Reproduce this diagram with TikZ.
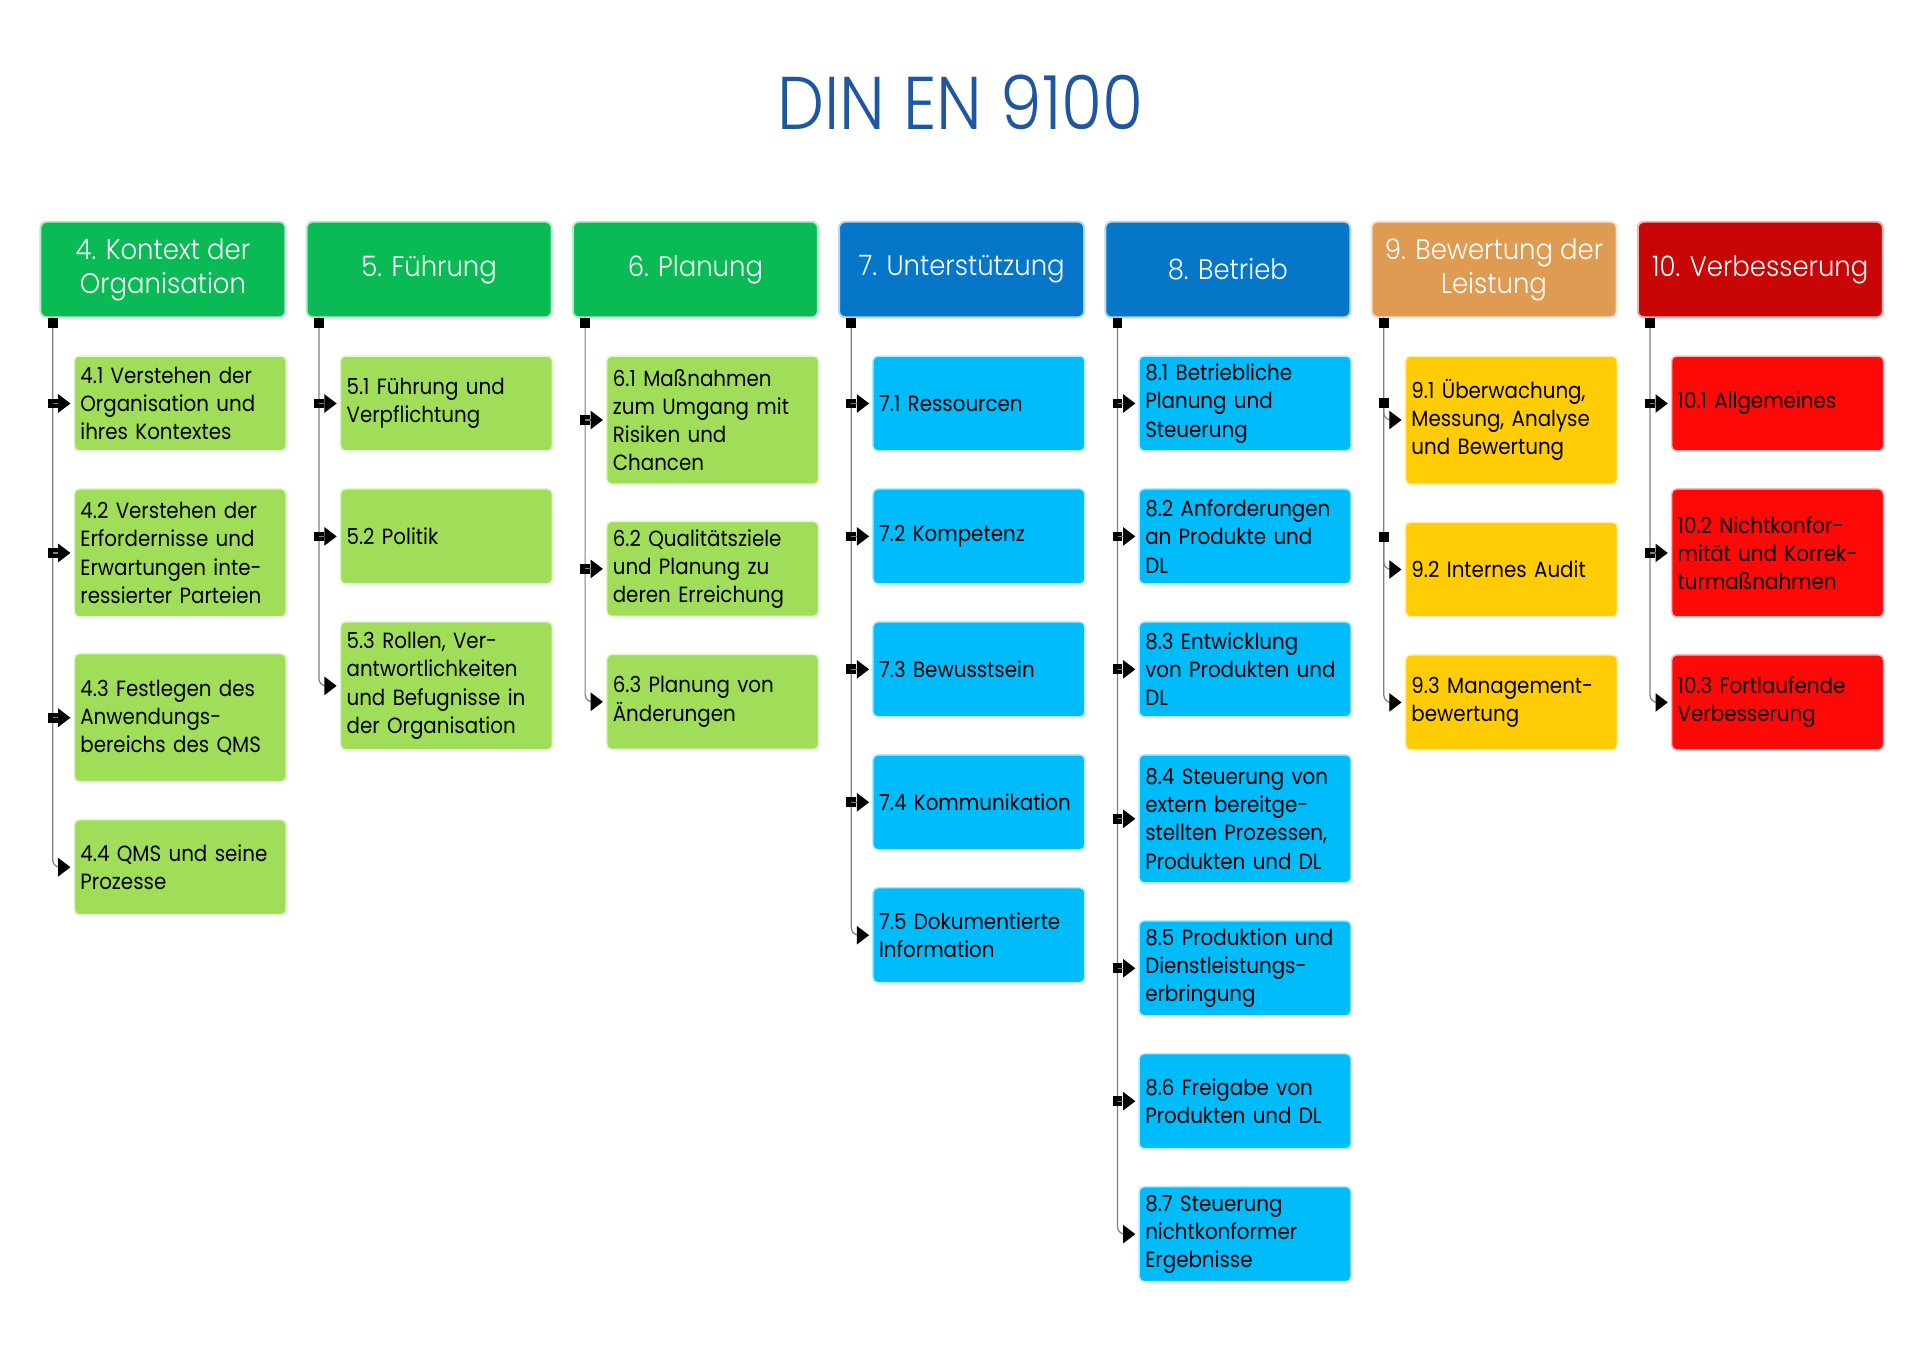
\documentclass[tikz,border=0pt]{standalone}
\usepackage{fontspec}
\setmainfont[FakeStretch=0.9]{Poppins}
\newfontfamily\titlefont[FakeStretch=0.89]{Poppins Light}
\newfontfamily\hdrfont[FakeStretch=0.92]{Poppins Light}
\usetikzlibrary{arrows.meta,calc}
\definecolor{hgreen}{RGB}{10,186,85}
\definecolor{hblue}{RGB}{5,118,200}
\definecolor{horange}{RGB}{224,155,82}
\definecolor{hred}{RGB}{200,6,6}
\definecolor{sgreen}{RGB}{160,222,90}
\definecolor{sblue}{RGB}{0,188,250}
\definecolor{syellow}{RGB}{255,204,5}
\definecolor{sred}{RGB}{255,8,8}
\definecolor{tblue}{RGB}{31,86,160}
\definecolor{linegray}{RGB}{128,128,128}
\newcommand\hbx[5]{\node[hdrbox,fill=#4,draw=#4!30] (#1) at (#2,#3) {#5};}
\newcommand\sbx[6]{\node[subbox,fill=#5,draw=#5!30,minimum height=#4*0.5pt] (#1) at (#2,#3) {#6};}
\newcommand\midarr[2]{\node[sq] at (#1 |- #2.west) {};\draw[conn,arr] (#1 |- #2.west) -- (#2.west);}
\newcommand\lastarr[2]{\draw[conn,arr,rounded corners=3pt] (#1) |- (#2.west);\node[sq,anchor=north] at (#1) {};}
\begin{document}
\begin{tikzpicture}[x=0.5pt,y=-0.5pt,
 hdrbox/.style={rounded corners=2.5pt,minimum width=100pt,minimum height=39pt,inner sep=0pt,align=center,text=white,line width=0.8pt,font=\hdrfont\fontsize{11.5}{14}\selectfont},
 subbox/.style={rounded corners=2pt,minimum width=86.5pt,inner xsep=2.5pt,inner ysep=0pt,text width=81.5pt,align=left,anchor=north west,line width=0.6pt,font=\fontsize{9}{11.5}\selectfont},
 conn/.style={draw=linegray,line width=0.5pt},
 arr/.style={-{Triangle[length=5pt,width=7.5pt,color=black]},shorten >=1.25pt},
 sq/.style={fill=black,minimum size=4pt,inner sep=0pt}]
\fill[white] (0,0) rectangle (1568,1106);
\useasboundingbox (0,0) rectangle (1568,1106);

\node[anchor=base,text=tblue,font=\titlefont\fontsize{30.5}{36}\selectfont] (title) at (784,106) {DIN EN 9100};

% headers
\hbx{h4}{133}{220}{hgreen}{4. Kontext der\\Organisation}
\hbx{h5}{350.3}{220}{hgreen}{5. Führung}
\hbx{h6}{567.6}{220}{hgreen}{6. Planung}
\hbx{h7}{784.9}{220}{hblue}{7. Unterstützung}
\hbx{h8}{1002.2}{220}{hblue}{8. Betrieb}
\hbx{h9}{1219.5}{220}{horange}{9. Bewertung der\\Leistung}
\hbx{h10}{1436.8}{220}{hred}{10. Verbesserung}

% line origins
\coordinate (l4) at (43,259);
\coordinate (l5) at (260.3,259);
\coordinate (l6) at (477.6,259);
\coordinate (l7) at (694.9,259);
\coordinate (l8) at (912.2,259);
\coordinate (l9) at (1129.5,259);
\coordinate (l10) at (1346.8,259);

% column 4
\sbx{b41}{60}{290}{77.5}{sgreen}{4.1 Verstehen der\\Organisation und\\ihres Kontextes}
\sbx{b42}{60}{398.5}{104.5}{sgreen}{4.2 Verstehen der\\Erfordernisse und\\Erwartungen inte-\\ressierter Parteien}
\sbx{b43}{60}{533}{104.5}{sgreen}{4.3 Festlegen des\\Anwendungs-\\bereichs des QMS}
\sbx{b44}{60}{668.5}{77.5}{sgreen}{4.4 QMS und seine\\Prozesse}
% column 5
\sbx{b51}{277.3}{290}{77.5}{sgreen}{5.1 Führung und\\Verpflichtung}
\sbx{b52}{277.3}{398.5}{77.5}{sgreen}{5.2 Politik}
\sbx{b53}{277.3}{507}{104.5}{sgreen}{5.3 Rollen, Ver-\\antwortlichkeiten\\und Befugnisse in\\der Organisation}
% column 6
\sbx{b61}{494.6}{290}{104.5}{sgreen}{6.1 Maßnahmen\\zum Umgang mit\\Risiken und\\Chancen}
\sbx{b62}{494.6}{425}{77.5}{sgreen}{6.2 Qualitätsziele\\und Planung zu\\deren Erreichung}
\sbx{b63}{494.6}{533.5}{77.5}{sgreen}{6.3 Planung von\\Änderungen}
% column 7
\sbx{b71}{711.9}{290}{77.5}{sblue}{7.1 Ressourcen}
\sbx{b72}{711.9}{398.5}{77.5}{sblue}{7.2 Kompetenz}
\sbx{b73}{711.9}{507}{77.5}{sblue}{7.3 Bewusstsein}
\sbx{b74}{711.9}{615.5}{77.5}{sblue}{7.4 Kommunikation}
\sbx{b75}{711.9}{724}{77.5}{sblue}{7.5 Dokumentierte\\Information}
% column 8
\sbx{b81}{929.2}{290}{77.5}{sblue}{8.1 Betriebliche\\Planung und\\Steuerung}
\sbx{b82}{929.2}{398.5}{77.5}{sblue}{8.2 Anforderungen\\an Produkte und\\DL}
\sbx{b83}{929.2}{507}{77.5}{sblue}{8.3 Entwicklung\\von Produkten und\\DL}
\sbx{b84}{929.2}{615.5}{104.5}{sblue}{8.4 Steuerung von\\extern bereitge-\\stellten Prozessen,\\Produkten und DL}
\sbx{b85}{929.2}{751}{77.5}{sblue}{8.5 Produktion und\\Dienstleistungs-\\erbringung}
\sbx{b86}{929.2}{859.5}{77.5}{sblue}{8.6 Freigabe von\\Produkten und DL}
\sbx{b87}{929.2}{968}{77.5}{sblue}{8.7 Steuerung\\nichtkonformer\\Ergebnisse}
% column 9
\sbx{b91}{1146.5}{290}{104.5}{syellow}{9.1 Überwachung,\\Messung, Analyse\\und Bewertung}
\sbx{b92}{1146.5}{425.5}{77.5}{syellow}{9.2 Internes Audit}
\sbx{b93}{1146.5}{534}{77.5}{syellow}{9.3 Management-\\bewertung}
% column 10
\sbx{b101}{1363.8}{290}{77.5}{sred}{10.1 Allgemeines}
\sbx{b102}{1363.8}{398.5}{104.5}{sred}{10.2 Nichtkonfor-\\mität und Korrek-\\turmaßnahmen}
\sbx{b103}{1363.8}{534}{77.5}{sred}{10.3 Fortlaufende\\Verbesserung}

% connectors
\lastarr{l4}{b44}
\midarr{l4}{b41}\midarr{l4}{b42}\midarr{l4}{b43}
\lastarr{l5}{b53}
\midarr{l5}{b51}\midarr{l5}{b52}
\lastarr{l6}{b63}
\midarr{l6}{b61}\midarr{l6}{b62}
\lastarr{l7}{b75}
\midarr{l7}{b71}\midarr{l7}{b72}\midarr{l7}{b73}\midarr{l7}{b74}
\lastarr{l8}{b87}
\midarr{l8}{b81}\midarr{l8}{b82}\midarr{l8}{b83}\midarr{l8}{b84}\midarr{l8}{b85}\midarr{l8}{b86}
\lastarr{l9}{b93}
\coordinate (q91) at (1129.5,329);
\coordinate (q92) at (1129.5,438);
\draw[conn,arr,rounded corners=3pt] (q91) |- (b91.west);
\draw[conn,arr,rounded corners=3pt] (q92) |- (b92.west);
\node[sq] at (q91) {};
\node[sq] at (q92) {};
\lastarr{l10}{b103}
\midarr{l10}{b101}\midarr{l10}{b102}
\end{tikzpicture}
\end{document}
